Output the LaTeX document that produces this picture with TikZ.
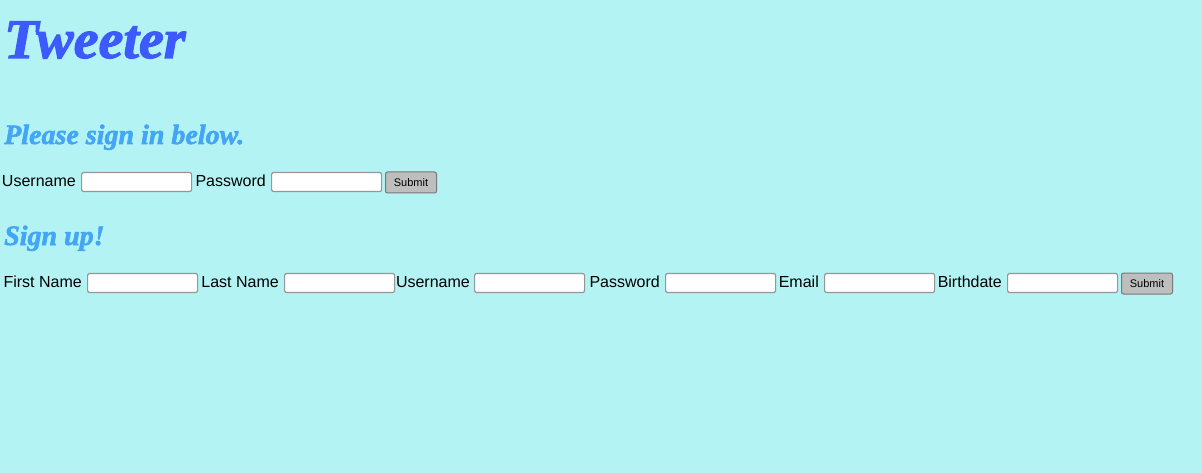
\documentclass[tikz,border=0pt]{standalone}
\usepackage{fontspec}
\setmainfont{Liberation Sans}
\newfontface\headfont{Liberation Serif Bold Italic}[FakeBold=2]
\usetikzlibrary{positioning}

\definecolor{pagebg}{RGB}{179,243,243}
\definecolor{titleblue}{RGB}{61,90,254}
\definecolor{headblue}{RGB}{66,165,245}
\definecolor{boxline}{RGB}{150,150,150}
\definecolor{btnfill}{RGB}{190,190,190}
\definecolor{btnline}{RGB}{120,120,120}

\begin{document}
\begin{tikzpicture}[
    x=1pt, y=-1pt,
    title/.style={anchor=base west, inner sep=0pt, text=titleblue, font=\headfont\fontsize{56}{60}\selectfont},
    heading/.style={anchor=base west, inner sep=0pt, text=headblue, font=\headfont\fontsize{28}{32}\selectfont},
    lbl/.style={anchor=base east, inner sep=0pt, font=\fontsize{16}{19}\selectfont},
    inbox/.style={rectangle, anchor=west, draw=boxline, line width=1.2pt, fill=white, rounded corners=2pt, minimum width=110pt, minimum height=19pt, inner sep=0pt},
    btn/.style={rectangle, anchor=west, draw=btnline, line width=1pt, fill=btnfill, rounded corners=2pt, minimum width=51pt, minimum height=21pt, inner sep=0pt, font=\fontsize{11}{13}\selectfont}
]

    % Page
    \fill[pagebg] (0,0) rectangle (1202,473);
    \useasboundingbox (0,0) rectangle (1202,473);

    % Headings
    \node[title] (tweeter) at (4,58) {Tweeter};
    \node[heading] (signin) at (4,144) {Please sign in below.};
    \node[heading] (signup) at (4,245) {Sign up!};

    % Sign in form
    \node[lbl] (user1) at (76,187) {Username};
    \node[inbox] (userbox1) at (81,182) {};
    \node[lbl] (pass1) at (266,187) {Password};
    \node[inbox] (passbox1) at (271,182) {};
    \node[btn] (submit1) at (385,182.5) {Submit};

    % Sign up form
    \node[lbl] (first) at (82,287) {First Name};
    \node[inbox] (firstbox) at (87,283) {};
    \node[lbl] (last) at (279,287) {Last Name};
    \node[inbox] (lastbox) at (284,283) {};
    \node[lbl] (user2) at (470,287) {Username};
    \node[inbox] (userbox2) at (474,283) {};
    \node[lbl] (pass2) at (660,287) {Password};
    \node[inbox] (passbox2) at (665,283) {};
    \node[lbl] (email) at (819,287) {Email};
    \node[inbox] (emailbox) at (824,283) {};
    \node[lbl] (birth) at (1002,287) {Birthdate};
    \node[inbox] (birthbox) at (1007,283) {};
    \node[btn] (submit2) at (1121,283.5) {Submit};

\end{tikzpicture}
\end{document}
